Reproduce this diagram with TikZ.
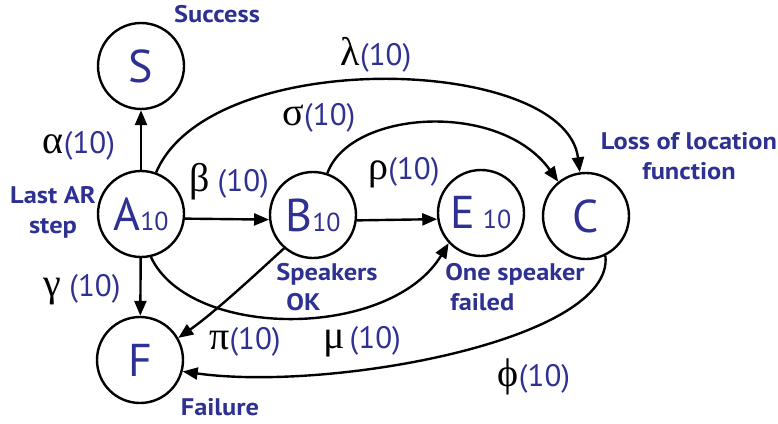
\documentclass[tikz,border=0pt]{standalone}
\usepackage{fontspec}
\setmainfont{PT Sans}
\newfontfamily\grk{Liberation Serif}
\newfontfamily\lblfont[FakeStretch=1.1]{PT Sans}
\usetikzlibrary{arrows.meta}
\definecolor{dblue}{RGB}{46,49,146}
\newcommand\subnum[1]{{\fontsize{26}{26}\selectfont #1}}
\newcommand\gk[1]{{\grk\fontsize{40}{40}\selectfont\color{black}#1}}
\begin{document}
\begin{tikzpicture}[x=1pt,y=-1pt,
  state/.style={circle,draw,line width=2.4pt,minimum size=86pt,inner sep=0pt,text=dblue,font=\fontsize{46}{46}\selectfont},
  lbl/.style={text=dblue,font=\lblfont\bfseries\fontsize{24}{30}\selectfont,align=center,inner sep=0pt},
  rate/.style={text=dblue,font=\fontsize{31}{31}\selectfont,inner sep=0pt},
  edge/.style={line width=2.4pt,-{Triangle[length=15pt,width=12pt]}}]
\useasboundingbox (0,0) rectangle (778,423);
\node[state] (S) at (141,66) {S};
\node[state] (A) at (141,214) {A\subnum{10}};
\node[state] (B) at (313,215) {B\subnum{10}};
\node[state] (E) at (481,213) {E\,\subnum{10}};
\node[state] (C) at (586,216) {C};
\node[state] (F) at (140,360) {F};
\draw[edge] (A) -- (S);
\draw[edge] (A.-6) -- (B.186);
\draw[edge] (B.-7) -- (E.188);
\draw[edge] (A) -- (F);
\draw[edge] (A.70) .. controls (210,45) and (565,55) .. (C.98);
\draw[edge] (B.71) .. controls (350,110) and (500,100) .. (C.129);
\draw[edge] (A.-77) .. controls (190,340) and (390,340) .. (E.223);
\draw[edge] (B.229) .. controls (255,275) and (215,312) .. (F.30);
\draw[edge] (C.-64) .. controls (615,340) and (330,392) .. (F.-15);
\node[rate] (lal) at (79,146) {\gk{α}(10)};
\node[rate] (lla) at (376,55) {\gk{λ}(10)};
\node[rate] (lsi) at (319,118) {\gk{σ}(10)};
\node[rate] (lbe) at (229,182) {\gk{β} (10)};
\node[rate] (lrh) at (404,173) {\gk{ρ}(10)};
\node[rate] (lga) at (82,290) {\gk{γ} (10)};
\node[rate] (lpi) at (245,342) {\gk{π}(10)};
\node[rate] (lmu) at (362,342) {\gk{μ}\,(10)};
\node[rate] (lph) at (534,377) {\gk{ϕ}(10)};
\node[lbl] (tS) at (217,14) {Success};
\node[lbl] (tA) at (53,212) {Last AR\\step};
\node[lbl] (tC) at (689,156) {Loss of location\\function};
\node[lbl,align=left] (tB) at (327,287) {Speakers\\\hspace*{10pt}OK};
\node[lbl,align=left] (tE) at (515,287) {One speaker\\\hspace*{5pt}failed};
\node[lbl] (tF) at (220,407) {Failure};
\end{tikzpicture}
\end{document}
